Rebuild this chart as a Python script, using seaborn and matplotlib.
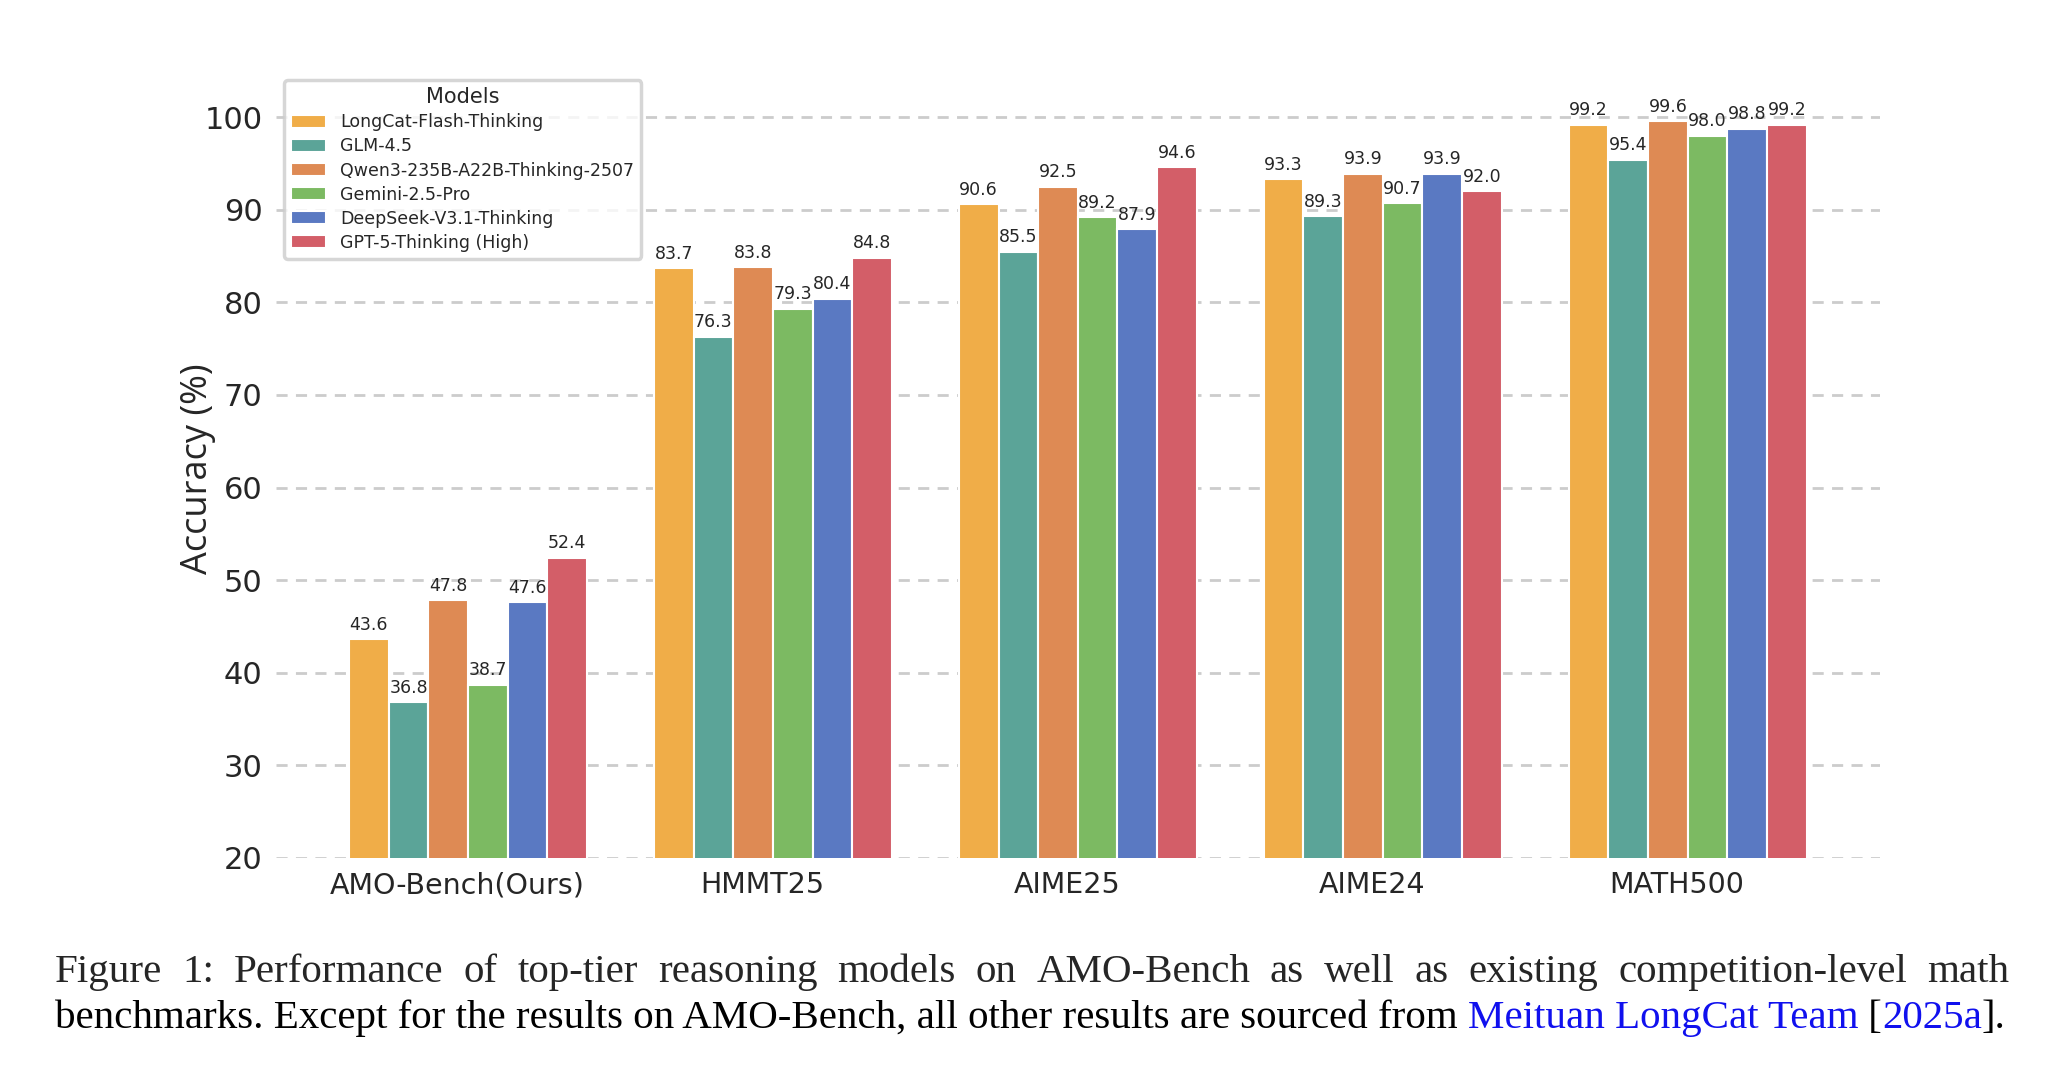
import pandas as pd
import seaborn as sns
import matplotlib.pyplot as plt

# -----------------------------
# DATA
# -----------------------------
benchmarks = ["AMO-Bench(Ours)", "HMMT25", "AIME25", "AIME24", "MATH500"]
models = ["LongCat-Flash-Thinking", "GLM-4.5", "Qwen3-235B-A22B-Thinking-2507",
          "Gemini-2.5-Pro", "DeepSeek-V3.1-Thinking", "GPT-5-Thinking (High)"]
longcat = [43.6, 83.7, 90.6, 93.3, 99.2]
glm = [36.8, 76.3, 85.5, 89.3, 95.4]
qwen = [47.8, 83.8, 92.5, 93.9, 99.6]
gemini = [38.7, 79.3, 89.2, 90.7, 98.0]
deepseek = [47.6, 80.4, 87.9, 93.9, 98.8]
gpt5 = [52.4, 84.8, 94.6, 92.0, 99.2]
colors = ["#F0AD48", "#5BA498", "#DE8A54", "#7CBA62", "#5A79C2", "#D35E68"]

rows = []
for m, vals in zip(models, [longcat, glm, qwen, gemini, deepseek, gpt5]):
    for b, v in zip(benchmarks, vals):
        rows.append({"Benchmark": b, "Model": m, "Accuracy": v})
df = pd.DataFrame(rows)

# -----------------------------
# PLOT
# -----------------------------
sns.set_style("white")
plt.rcParams["font.family"] = ["DejaVu Sans"]

fig = plt.figure(figsize=(20.48, 10.72), dpi=100)
ax = fig.add_axes([0.135, 0.2, 0.783, 0.725])

sns.barplot(data=df, x="Benchmark", y="Accuracy", hue="Model",
            order=benchmarks, hue_order=models, palette=colors,
            width=0.78, gap=0.0, edgecolor="white", linewidth=1.5,
            saturation=1, ax=ax)

# bars sit slightly right of the tick in the original
for p in ax.patches:
    p.set_x(p.get_x() + 0.035)

for cont in ax.containers:
    ax.bar_label(cont, fmt="%.1f", padding=4, fontsize=12.5)

ax.set_ylim(20, 104)
ax.set_xlim(-0.593, 4.666)
ax.set_yticks(range(20, 101, 10))
ax.yaxis.grid(True, linestyle=(0, (4, 3)), color="#cccccc", linewidth=2)
ax.set_axisbelow(True)
for s in ax.spines.values():
    s.set_visible(False)
ax.tick_params(axis="y", labelsize=22, length=6, width=1.5, color="#cccccc", pad=4)
ax.tick_params(axis="x", labelsize=20.5, length=0, pad=10)
ax.set_xlabel("")
ax.set_ylabel("Accuracy (%)", fontsize=26, family=["Open Sans", "DejaVu Sans"], labelpad=-8)

leg = ax.legend(title="Models", loc="upper left", fontsize=12.5, title_fontsize=15,
                bbox_to_anchor=(0.005, 1.0), borderaxespad=0.0, frameon=True,
                handlelength=2.0, handleheight=0.8, handletextpad=0.8,
                labelspacing=0.35, fancybox=True)
leg.get_frame().set_edgecolor("#cccccc")
leg.get_frame().set_linewidth(2.5)

# -----------------------------
# CAPTION
# -----------------------------
fig.canvas.draw()
renderer = fig.canvas.get_renderer()
left_px, right_px = 55, 2009
W, H = fig.bbox.width, fig.bbox.height
cap_font = ["Liberation Serif", "DejaVu Serif"]

line2 = [("benchmarks. Except for the results on AMO-Bench, all other results are sourced from ", "black"),
         ("Meituan LongCat Team", "#1010EE"), (" [", "black"), ("2025a", "#1010EE"), ("].", "black")]
probe = fig.text(0, 0, "".join(p for p, _ in line2), fontsize=30, family=cap_font)
w = probe.get_window_extent(renderer).width
probe.remove()
fs = 30 * (right_px - left_px) / w

# line 1 justified word by word
line1 = "Figure 1: Performance of top-tier reasoning models on AMO-Bench as well as existing competition-level math"
words = line1.split(" ")
y1 = 1 - 982 / H
widths = []
for wd in words:
    t = fig.text(0, 0, wd, fontsize=fs, family=cap_font)
    widths.append(t.get_window_extent(renderer).width)
    t.remove()
space = (right_px - left_px - sum(widths)) / (len(words) - 1)
x = left_px
for wd, ww in zip(words, widths):
    fig.text(x / W, y1, wd, fontsize=fs, family=cap_font, va="baseline")
    x += ww + space

y2 = 1 - 1028 / H
x = left_px
for piece, col in line2:
    t = fig.text(x / W, y2, piece, fontsize=fs, family=cap_font, color=col, va="baseline")
    x += t.get_window_extent(renderer).width

fig.savefig("out.png", dpi=100)
